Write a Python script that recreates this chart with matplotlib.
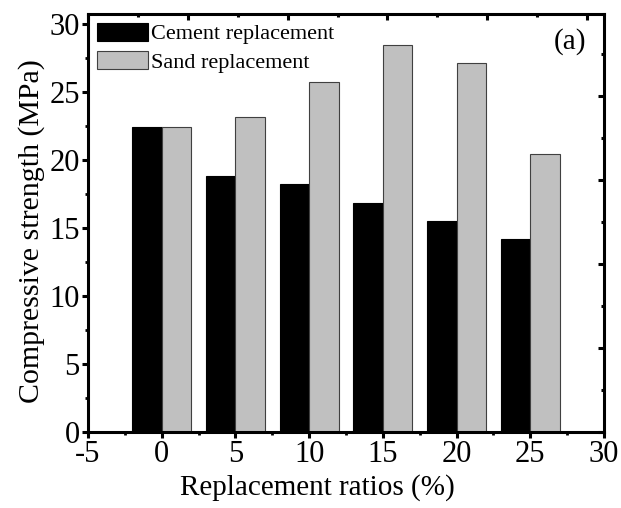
import matplotlib
matplotlib.use("Agg")
import matplotlib.pyplot as plt
import numpy as np
from matplotlib.ticker import MultipleLocator

plt.rcParams['font.family'] = ['Liberation Serif', 'DejaVu Serif']
plt.rcParams['axes.unicode_minus'] = False

# data
ratios = [0, 5, 10, 15, 20, 25]
cement = [22.4, 18.8, 18.2, 16.8, 15.5, 14.2]
sand = [22.4, 23.1, 25.7, 28.4, 27.1, 20.4]
xticks = [-5, 0, 5, 10, 15, 20, 25, 30]
yticks = [0, 5, 10, 15, 20, 25, 30]

fig = plt.figure(figsize=(6.21, 5.08), dpi=100)
pos = [0.1417, 0.1496, 0.9726 - 0.1417, 0.9724 - 0.1496]
ax = fig.add_axes(pos)

x = np.array(ratios)
bw = 2.0
ax.bar(x, cement, width=-bw, align='edge', color='black', edgecolor='black',
       linewidth=0.8, label='Cement replacement', zorder=2)
ax.bar(x, sand, width=bw, align='edge', color='#c0c0c0', edgecolor='#404040',
       linewidth=0.8, label='Sand replacement', zorder=2)

ax.set_xlim(-5, 30)
ax.set_ylim(0, 30.7)
ax.set_xticks(xticks)
ax.set_yticks(yticks)
ax.xaxis.set_minor_locator(MultipleLocator(2.5))
ax.yaxis.set_minor_locator(MultipleLocator(2.5))

for s in ax.spines.values():
    s.set_linewidth(2.2)
ax.tick_params(which='major', direction='out', length=4, width=2.2, labelsize=22,
               top=False, right=False, pad=2)
ax.tick_params(which='minor', direction='out', length=2.5, width=2.0,
               top=False, right=False)

ax.set_xlabel('Replacement ratios (%)', fontsize=21)
ax.set_ylabel('Compressive strength (MPa)', fontsize=21.5)
# label positions as placed in the reference
ax.xaxis.set_label_coords(0.445, -0.1)
ax.yaxis.set_label_coords(-0.083, 0.48)

ax.text(0.965, 0.935, '(a)', transform=ax.transAxes, fontsize=21,
        ha='right', va='center')

leg = ax.legend(loc='upper left', frameon=False, fontsize=16,
                handlelength=2.3, handleheight=0.85, handletextpad=0.15,
                labelspacing=0.3, borderaxespad=0.2, borderpad=0.2)

# the top and right axes carry their own inward ticks, no labels
ax2 = fig.add_axes(pos, frameon=False)
ax2.set_xlim(0, 5.17)
ax2.set_ylim(0, 4.98)
ax2.xaxis.set_major_locator(MultipleLocator(1))
ax2.xaxis.set_minor_locator(MultipleLocator(0.5))
ax2.yaxis.set_major_locator(MultipleLocator(1))
ax2.yaxis.set_minor_locator(MultipleLocator(0.5))
ax2.tick_params(which='both', direction='in', bottom=False, left=False,
                top=True, right=True, labelbottom=False, labelleft=False,
                width=2.2)
ax2.tick_params(which='major', length=4)
ax2.tick_params(which='minor', length=2.5)
ax2.patch.set_visible(False)

fig.savefig('out.png', dpi=100)
